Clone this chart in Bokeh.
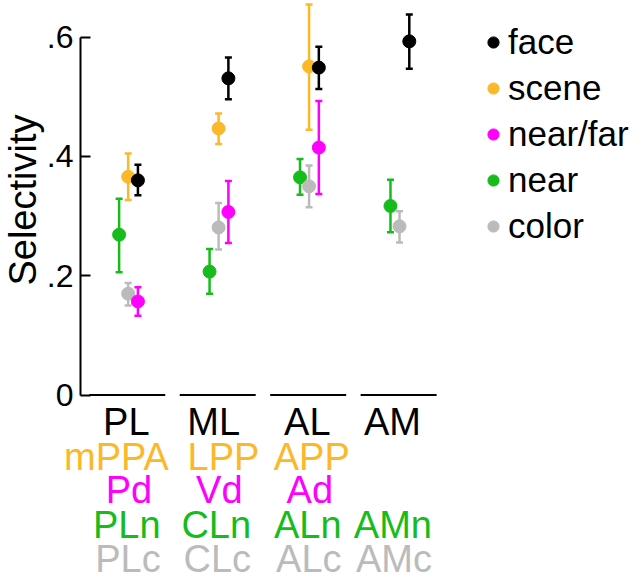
import math
from bokeh.plotting import figure
from bokeh.models import (Range1d, FixedTicker, CustomJSTickFormatter, Legend,
                          LegendItem, ColumnDataSource)
from bokeh.core.properties import value
from bokeh.embed import file_html
from bokeh.resources import INLINE

# ---------------- data ----------------
areas = ["PL", "ML", "AL", "AM"]
area_pos = [1, 2, 3, 4]

face_pos = [1, 2, 3, 4]
face = [0.360, 0.531, 0.549, 0.593]
face_lo = [0.335, 0.496, 0.513, 0.547]
face_hi = [0.386, 0.566, 0.584, 0.638]

scene_pos = [1, 2, 3]
scene = [0.366, 0.447, 0.551]
scene_lo = [0.327, 0.421, 0.445]
scene_hi = [0.405, 0.472, 0.655]

nearfar_pos = [1, 2, 3]
nearfar = [0.157, 0.307, 0.415]
nearfar_lo = [0.133, 0.255, 0.337]
nearfar_hi = [0.181, 0.359, 0.493]

near_pos = [1, 2, 3, 4]
near = [0.269, 0.207, 0.365, 0.317]
near_lo = [0.206, 0.170, 0.336, 0.273]
near_hi = [0.329, 0.245, 0.396, 0.361]

color_pos = [1, 2, 3, 4]
color = [0.170, 0.281, 0.350, 0.283]
color_lo = [0.150, 0.244, 0.315, 0.256]
color_hi = [0.188, 0.322, 0.385, 0.308]

scene_labels = ["mPPA", "LPP", "APP"]
nearfar_labels = ["Pd", "Vd", "Ad"]
near_labels = ["PLn", "CLn", "ALn", "AMn"]
color_labels = ["PLc", "CLc", "ALc", "AMc"]

y_ticks = [0, 0.2, 0.4, 0.6]
y_title = "Selectivity"

# ---------------- style ----------------
FONT = "Liberation Sans"
C_FACE = "#000000"
C_SCENE = "#FBB829"
C_NEARFAR = "#FF00FF"
C_NEAR = "#16BC1C"
C_COLOR = "#BBBBBB"
AXIS_X = 0.473          # where the y axis sits (data units)

p = figure(width=640, height=580, output_backend="svg", toolbar_location=None,
           x_range=Range1d(-0.4113, 6.664), y_range=Range1d(-0.3108, 0.6615),
           x_axis_location=None, min_border=0, outline_line_color=None)
p.grid.visible = False

ax = p.yaxis[0]
ax.fixed_location = AXIS_X
ax.bounds = (0, 0.6)
ax.ticker = FixedTicker(ticks=y_ticks)
ax.formatter = CustomJSTickFormatter(
    code="return tick === 0 ? '0' : tick.toFixed(1).replace(/^0/, '');")
ax.minor_tick_line_color = None
ax.major_tick_in = 10
ax.major_tick_out = 0
ax.axis_line_width = 2
ax.major_tick_line_width = 2
ax.axis_line_color = "black"
ax.major_tick_line_color = "black"
ax.major_label_text_font = FONT
ax.major_label_text_font_size = "32px"
ax.major_label_text_color = "black"
ax.major_label_standoff = 7

# y axis title
p.text(x=[AXIS_X - 0.64], y=[0.327], text=[y_title], angle=math.pi / 2,
       text_align="center", text_baseline="middle",
       text_font=value(FONT), text_font_size=value("38px"), text_color="black")

# group baselines under each area
p.segment(x0=[a - 0.43 for a in area_pos], y0=[0] * 4,
          x1=[a + 0.41 for a in area_pos], y1=[0] * 4,
          line_color="black", line_width=2)

series = [
    ("near", near_pos, near, near_lo, near_hi, C_NEAR, -0.10),
    ("color", color_pos, color, color_lo, color_hi, C_COLOR, 0.0),
    ("scene", scene_pos, scene, scene_lo, scene_hi, C_SCENE, 0.0),
    ("near/far", nearfar_pos, nearfar, nearfar_lo, nearfar_hi, C_NEARFAR, 0.108),
    ("face", face_pos, face, face_lo, face_hi, C_FACE, 0.108),
]

dots = {}
for name, pos, vals, lo, hi, col, off in series:
    xs = [q + off for q in pos]
    src = ColumnDataSource(dict(x=xs, y=vals, lo=lo, hi=hi))
    p.segment(x0="x", y0="lo", x1="x", y1="hi", source=src,
              line_color=col, line_width=2.5)
    p.scatter(x="x", y="hi", source=src, marker="dash", size=7,
              line_color=col, line_width=2.5)
    p.scatter(x="x", y="lo", source=src, marker="dash", size=7,
              line_color=col, line_width=2.5)
    dots[name] = p.scatter(x="x", y="y", source=src, marker="circle", size=13,
                           fill_color=col, line_color=col)

legend_order = ["face", "scene", "near/far", "near", "color"]
legend = Legend(items=[LegendItem(label=n, renderers=[dots[n]]) for n in legend_order],
                location=(479, 334), glyph_width=28, glyph_height=28,
                label_standoff=1, spacing=6, padding=0, margin=0,
                border_line_color=None, background_fill_alpha=0,
                label_text_font=FONT, label_text_font_size="35px",
                label_text_color="black")
p.add_layout(legend)

# area labels below the axis (right-aligned per row)
rows = [
    (areas, area_pos, "black", -0.0443, 0.237),
    (scene_labels, scene_pos, C_SCENE, -0.1035, 0.45),
    (nearfar_labels, nearfar_pos, C_NEARFAR, -0.1593, 0.265),
    (near_labels, near_pos, C_NEAR, -0.2185, 0.359),
    (color_labels, color_pos, C_COLOR, -0.2750, 0.359),
]
for labels, pos, col, ylev, dx in rows:
    p.text(x=[q + dx for q in pos], y=[ylev] * len(pos), text=labels,
           text_align="right", text_baseline="middle",
           text_font=value(FONT), text_font_size=value("38px"),
           text_color=col)

open("out.html", "w").write(file_html(p, INLINE))
